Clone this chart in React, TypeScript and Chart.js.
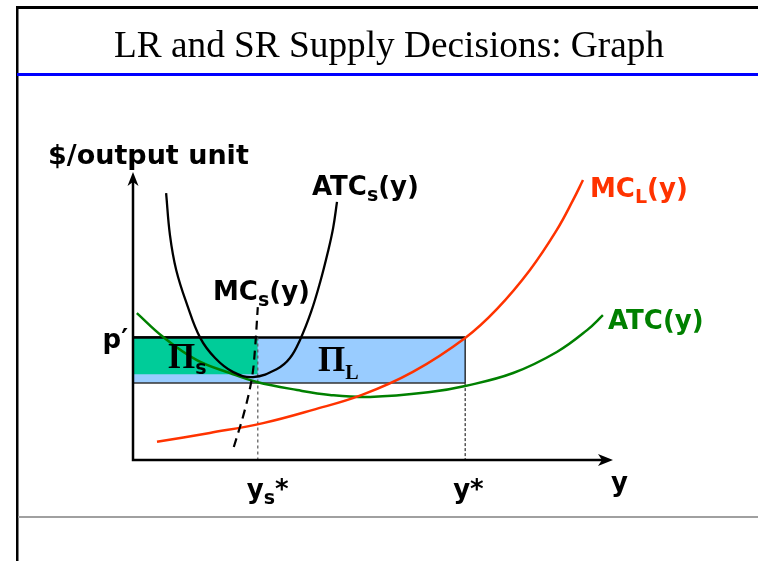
import React, { useEffect, useRef } from "react";
import { Chart, registerables } from "chart.js";

Chart.register(...registerables);

// ---- Texts ----
const TITLE = "LR and SR Supply Decisions: Graph";
const Y_AXIS_TITLE = "$/output unit";
const X_AXIS_TITLE = "y";
const PRICE_LABEL = "p′";

// ---- Key values (economic units on a 0..100 scale) ----
const pPrime = 42.5; // market price p'
const ysStar = 26.0; // short-run optimal output
const yStar = 69.2; // long-run optimal output
const atcsAtYs = 29.8; // short-run average cost at ys*
const atcAtY = 26.7; // long-run average cost at y*

// ---- Curves ----
const atcsX = [6.9, 7.7, 9.0, 11.3, 14.0, 17.1, 20.8, 25.0, 30.0, 32.7, 34.8, 37.1, 39.0, 40.6, 41.7, 42.5];
const atcsY = [92.7, 78.1, 66.0, 53.8, 42.4, 35.4, 30.6, 28.8, 31.6, 35.4, 41.7, 51.4, 61.8, 72.2, 80.6, 89.6];

const mcsX = [21.0, 23.3, 24.8, 25.4, 26.0];
const mcsY = [4.5, 17.4, 28.8, 38.2, 53.1];

const atcX = [0.8, 6.3, 13.3, 20.2, 25.8, 34.2, 41.0, 49.4, 61.9, 69.2, 79.2, 88.3, 94.6, 97.9];
const atcY = [51.0, 42.7, 34.7, 30.2, 27.1, 24.3, 22.6, 21.9, 23.6, 25.7, 30.2, 37.5, 45.1, 50.3];

const mclX = [5.0, 16.0, 27.1, 37.5, 47.7, 58.3, 69.2, 75.8, 82.7, 88.3, 91.7, 93.75];
const mclY = [6.3, 9.4, 12.8, 17.4, 22.6, 30.6, 42.4, 52.4, 66.0, 79.9, 90.3, 97.2];

const zip = (xs: number[], ys: number[]) => xs.map((x, i) => ({ x, y: ys[i] }));

const RED = "#ff3300";
const GREEN = "#008000";
const SANS = '"DejaVu Sans", Verdana, sans-serif';
const SERIF = '"Liberation Serif", "Times New Roman", serif';

type Part = { t: string; sub?: boolean };

function drawRich(
  ctx: CanvasRenderingContext2D,
  parts: Part[],
  x: number,
  y: number,
  size: number,
  color: string,
  family = SANS,
  subFamily = SANS,
  subScale = 0.72,
  subDrop = 6
) {
  let cx = x;
  ctx.fillStyle = color;
  ctx.textAlign = "left";
  ctx.textBaseline = "alphabetic";
  for (const p of parts) {
    if (p.sub) {
      ctx.font = `bold ${Math.round(size * subScale)}px ${subFamily}`;
      ctx.fillText(p.t, cx, y + subDrop);
    } else {
      ctx.font = `bold ${size}px ${family}`;
      ctx.fillText(p.t, cx, y);
    }
    cx += ctx.measureText(p.t).width;
  }
}

const framePlugin = {
  id: "frame",
  beforeDraw(chart: any) {
    const ctx: CanvasRenderingContext2D = chart.ctx;
    ctx.save();
    ctx.fillStyle = "#ffffff";
    ctx.fillRect(0, 0, chart.width, chart.height);
    ctx.fillStyle = "#000000";
    ctx.fillRect(16, 6, 742, 3);
    ctx.fillRect(16, 6, 2.5, 555);
    ctx.fillStyle = "#0000ff";
    ctx.fillRect(17, 73, 741, 3);
    ctx.fillStyle = "#a0a0a0";
    ctx.fillRect(18, 516, 740, 2);
    ctx.fillStyle = "#000000";
    ctx.font = `37.3px ${SERIF}`;
    ctx.textAlign = "center";
    ctx.textBaseline = "alphabetic";
    ctx.fillText(TITLE, 389, 57);
    ctx.restore();
  },
};

const axesPlugin = {
  id: "axesArrows",
  afterDatasetsDraw(chart: any) {
    const ctx: CanvasRenderingContext2D = chart.ctx;
    const xs = chart.scales.x;
    const ys = chart.scales.y;
    const x0 = xs.getPixelForValue(0);
    const y0 = ys.getPixelForValue(0);
    const xEnd = xs.getPixelForValue(100);
    const yEnd = ys.getPixelForValue(100);
    ctx.save();
    ctx.strokeStyle = "#000";
    ctx.fillStyle = "#000";
    ctx.lineWidth = 2.5;
    ctx.beginPath();
    ctx.moveTo(x0, y0);
    ctx.lineTo(xEnd - 8, y0);
    ctx.moveTo(x0, y0 + 1.25);
    ctx.lineTo(x0, yEnd + 8);
    ctx.stroke();
    // x arrow
    ctx.beginPath();
    ctx.moveTo(xEnd, y0);
    ctx.lineTo(xEnd - 15, y0 - 6);
    ctx.lineTo(xEnd - 11, y0);
    ctx.lineTo(xEnd - 15, y0 + 6);
    ctx.closePath();
    ctx.fill();
    // y arrow
    ctx.beginPath();
    ctx.moveTo(x0, yEnd);
    ctx.lineTo(x0 - 5.5, yEnd + 14);
    ctx.lineTo(x0, yEnd + 10);
    ctx.lineTo(x0 + 5.5, yEnd + 14);
    ctx.closePath();
    ctx.fill();
    ctx.restore();
  },
};

const labelsPlugin = {
  id: "labels",
  afterDraw(chart: any) {
    const ctx: CanvasRenderingContext2D = chart.ctx;
    const xs = chart.scales.x;
    const ys = chart.scales.y;
    ctx.save();
    // axis titles
    drawRich(ctx, [{ t: Y_AXIS_TITLE }], 48, 164, 27, "#000");
    drawRich(ctx, [{ t: X_AXIS_TITLE }], xs.getPixelForValue(100) - 2, 491, 26, "#000");
    // price label
    ctx.font = `bold 26px ${SANS}`;
    ctx.fillStyle = "#000";
    ctx.textAlign = "right";
    ctx.fillText(PRICE_LABEL, xs.getPixelForValue(0) - 5, ys.getPixelForValue(pPrime) + 10);
    // x tick labels
    drawRich(ctx, [{ t: "y" }, { t: "s", sub: true }, { t: "*" }], xs.getPixelForValue(ysStar) - 11, 498, 26, "#000");
    drawRich(ctx, [{ t: "y*" }], xs.getPixelForValue(yStar) - 12, 498, 26, "#000");
    // curve labels
    drawRich(ctx, [{ t: "ATC" }, { t: "s", sub: true }, { t: "(y)" }], 312, 195, 26, "#000");
    drawRich(ctx, [{ t: "MC" }, { t: "s", sub: true }, { t: "(y)" }], 213, 300, 26, "#000");
    drawRich(ctx, [{ t: "MC" }, { t: "L", sub: true }, { t: "(y)" }], 590, 197, 26, RED);
    drawRich(ctx, [{ t: "ATC(y)" }], 608, 329, 26, GREEN);
    // profit labels
    drawRich(ctx, [{ t: "Π" }, { t: "s", sub: true }], 168, 368, 35, "#000", SERIF, SANS, 0.54, 6);
    drawRich(ctx, [{ t: "Π" }, { t: "L", sub: true }], 318, 371, 35, "#000", SERIF, SERIF, 0.58, 8);
    ctx.restore();
  },
};

export default function App() {
  const ref = useRef<HTMLCanvasElement | null>(null);

  useEffect(() => {
    if (!ref.current) return;
    const line = (data: any[], color: string, width: number, order: number, extra: any = {}) => ({
      data,
      showLine: true,
      borderColor: color,
      borderWidth: width,
      pointRadius: 0,
      fill: false,
      clip: false,
      order,
      tension: 0,
      ...extra,
    });

    const chart = new Chart(ref.current, {
      type: "scatter",
      data: {
        datasets: [
          // long-run profit rectangle
          line(
            [
              { x: 0, y: pPrime },
              { x: yStar, y: pPrime },
            ],
            "#000",
            2.5,
            20,
            { fill: { value: atcAtY }, backgroundColor: "#99ccff" }
          ),
          // short-run profit rectangle
          line(
            [
              { x: 0, y: pPrime },
              { x: ysStar, y: pPrime },
            ],
            "#000",
            2.5,
            19,
            { fill: { value: atcsAtYs }, backgroundColor: "#00cc99" }
          ),
          line(
            [
              { x: 0, y: atcAtY },
              { x: yStar, y: atcAtY },
            ],
            "#333",
            1.5,
            18
          ),
          line(
            [
              { x: yStar, y: atcAtY },
              { x: yStar, y: pPrime },
            ],
            "#000",
            1.2,
            18
          ),
          // dotted guides
          line(
            [
              { x: ysStar, y: pPrime },
              { x: ysStar, y: 0 },
            ],
            "#555",
            1.2,
            17,
            { borderDash: [3, 3] }
          ),
          line(
            [
              { x: yStar, y: atcAtY },
              { x: yStar, y: 0 },
            ],
            "#000",
            1,
            17,
            { borderDash: [3, 2] }
          ),
          // curves
          line(zip(atcX, atcY), GREEN, 2.5, 5, { tension: 0.4 }),
          line(zip(mclX, mclY), RED, 2.5, 4, { tension: 0.4 }),
          line(zip(atcsX, atcsY), "#000", 2.3, 3, { tension: 0.4 }),
          line(zip(mcsX, mcsY), "#000", 2.2, 2, { tension: 0.4, borderDash: [9, 6] }),
        ],
      },
      options: {
        animation: false,
        responsive: false,
        devicePixelRatio: 1,
        layout: { padding: { left: 133, right: 145, top: 172, bottom: 101 } },
        scales: {
          x: { type: "linear", min: 0, max: 100, display: false },
          y: { type: "linear", min: 0, max: 100, display: false },
        },
        plugins: {
          legend: { display: false },
          tooltip: { enabled: false },
        },
        events: [],
      },
      plugins: [framePlugin, axesPlugin, labelsPlugin],
    } as any);
    return () => chart.destroy();
  }, []);

  return (
    <div style={{ position: "fixed", left: 0, top: 0, width: 758, height: 561, background: "#fff" }}>
      <canvas ref={ref} width={758} height={561} style={{ display: "block", width: 758, height: 561 }} />
    </div>
  );
}
